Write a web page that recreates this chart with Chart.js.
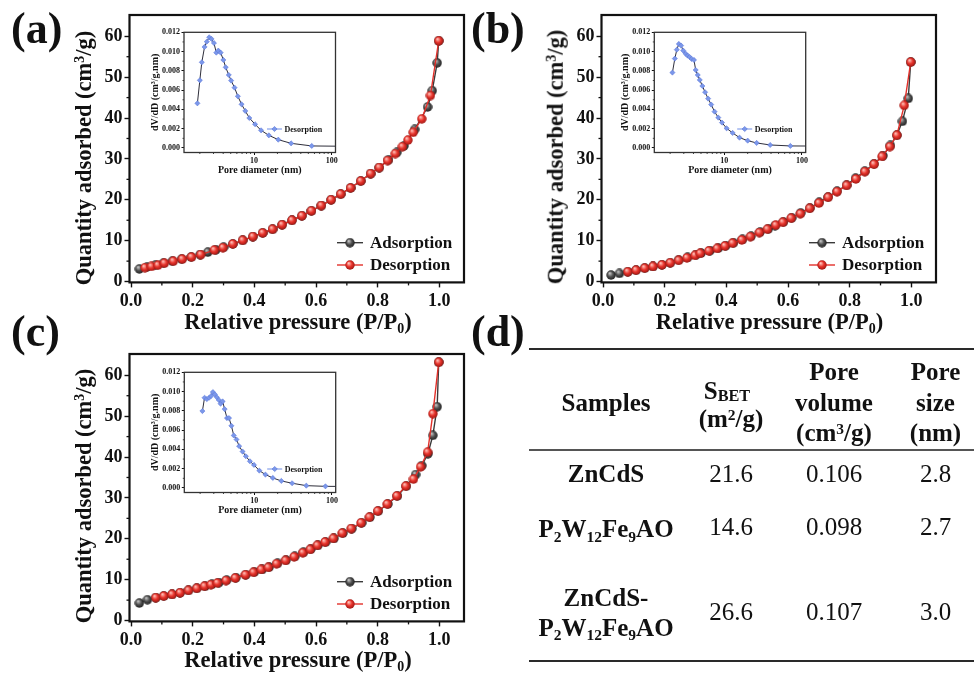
<!DOCTYPE html>
<html><head><meta charset="utf-8">
<script src="https://cdn.jsdelivr.net/npm/chart.js@4.4.1/dist/chart.umd.min.js"></script>
<style>
html,body{margin:0;padding:0;background:#fff;}
#wrap{position:relative;width:974px;height:675px;overflow:hidden;background:#fff;font-family:"Liberation Serif","Times New Roman",serif;color:#111;}
canvas{position:absolute;left:0;top:0;}
.lab{position:absolute;font-weight:bold;font-size:44px;line-height:1;white-space:nowrap;}
.xt{position:absolute;font-weight:bold;font-size:22.5px;line-height:1;white-space:nowrap;transform:translateX(-50%);}
.yt{position:absolute;font-weight:bold;font-size:22.5px;line-height:1;white-space:nowrap;transform:translate(-50%,-50%) rotate(-90deg);}
.sup{font-size:0.62em;position:relative;top:-0.48em;}
.sub{font-size:0.62em;position:relative;top:0.3em;}
.c{position:absolute;font-size:25px;line-height:1;white-space:nowrap;transform:translate(-50%,-50%);}
.b{font-weight:bold;}
.rule{position:absolute;left:529px;width:445px;background:#2a2a2a;}
</style></head>
<body>
<div id="wrap">
<canvas id="ca" width="974" height="675"></canvas>
<canvas id="cb" width="974" height="675"></canvas>
<canvas id="cc" width="974" height="675"></canvas>
<canvas id="ia" width="974" height="675"></canvas>
<canvas id="ib" width="974" height="675"></canvas>
<canvas id="ic" width="974" height="675"></canvas>

<div class="lab" style="left:11px;top:6.6px">(a)</div>
<div class="lab" style="left:471px;top:6.6px">(b)</div>
<div class="lab" style="left:11px;top:310.3px">(c)</div>
<div class="lab" style="left:471px;top:310.3px">(d)</div>

<div class="xt" style="left:298px;top:311px">Relative pressure (P/P<span class="sub">0</span>)</div>
<div class="xt" style="left:769.5px;top:311px">Relative pressure (P/P<span class="sub">0</span>)</div>
<div class="xt" style="left:298px;top:649.3px">Relative pressure (P/P<span class="sub">0</span>)</div>
<div class="yt" style="left:84px;top:157.5px">Quantity adsorbed (cm<span class="sup">3</span>/g)</div>
<div class="yt" style="left:556.3px;top:156.5px">Quantity adsorbed (cm<span class="sup">3</span>/g)</div>
<div class="yt" style="left:84px;top:495.5px">Quantity adsorbed (cm<span class="sup">3</span>/g)</div>

<div class="rule" style="top:348px;height:2.4px"></div>
<div class="rule" style="top:449.3px;height:1.5px;background:#555"></div>
<div class="rule" style="top:659.5px;height:2.4px"></div>

<div class="c b" style="left:606px;top:401.7px">Samples</div>
<div class="c b" style="left:727px;top:390px">S<span style="font-size:0.65em;position:relative;top:0.12em">BET</span></div>
<div class="c b" style="left:731px;top:418px">(m<span class="sup">2</span>/g)</div>
<div class="c b" style="left:834px;top:370.7px">Pore</div>
<div class="c b" style="left:834px;top:401.7px">volume</div>
<div class="c b" style="left:834px;top:432px">(cm<span class="sup">3</span>/g)</div>
<div class="c b" style="left:935.5px;top:370.7px">Pore</div>
<div class="c b" style="left:935.5px;top:401.7px">size</div>
<div class="c b" style="left:935.5px;top:432px">(nm)</div>

<div class="c b" style="left:606px;top:473.3px">ZnCdS</div>
<div class="c" style="left:731px;top:472.8px">21.6</div>
<div class="c" style="left:834px;top:472.8px">0.106</div>
<div class="c" style="left:935.5px;top:472.8px">2.8</div>

<div class="c b" style="left:606px;top:528px">P<span class="sub">2</span>W<span class="sub">12</span>Fe<span class="sub">9</span>AO</div>
<div class="c" style="left:731px;top:526px">14.6</div>
<div class="c" style="left:834px;top:526px">0.098</div>
<div class="c" style="left:935.5px;top:526px">2.7</div>

<div class="c b" style="left:606px;top:596.7px">ZnCdS-</div>
<div class="c b" style="left:606px;top:626.5px">P<span class="sub">2</span>W<span class="sub">12</span>Fe<span class="sub">9</span>AO</div>
<div class="c" style="left:731px;top:611px">26.6</div>
<div class="c" style="left:834px;top:611px">0.107</div>
<div class="c" style="left:935.5px;top:611px">3.0</div>
</div>

<script>
// ---------------- DATA ----------------
// Panel (a) ZnCdS isotherm
const pA_ads = [0.027,0.052,0.079,0.105,0.134,0.164,0.195,0.224,0.249,0.275,0.30,0.33,0.362,0.395,0.427,0.459,0.49,0.522,0.554,0.585,0.617,0.649,0.68,0.712,0.745,0.777,0.805,0.835,0.862,0.885,0.92,0.962,0.977,0.993,0.998];
const qA_ads = [3.1,3.6,4.0,4.5,5.0,5.5,6.0,6.6,7.2,7.8,8.4,9.2,10.1,11.0,11.9,12.8,13.9,15.0,16.1,17.3,18.6,20.0,21.4,22.9,24.6,26.4,27.9,29.8,31.6,33.2,37.2,42.7,46.7,53.5,58.9];
const pA_des = [0.045,0.066,0.087,0.108,0.137,0.166,0.196,0.226,0.27,0.298,0.33,0.362,0.395,0.427,0.459,0.49,0.522,0.554,0.585,0.617,0.649,0.68,0.712,0.745,0.777,0.805,0.832,0.857,0.88,0.898,0.915,0.943,0.971,0.998];
const qA_des = [3.4,3.7,4.0,4.5,5.0,5.5,6.0,6.6,7.7,8.3,9.2,10.1,11.0,11.9,12.8,13.9,15.0,16.1,17.3,18.6,20.0,21.4,22.9,24.6,26.4,27.9,29.6,31.3,33.0,34.6,36.5,39.8,45.5,58.9];
// Panel (b) P2W12Fe9AO isotherm
const pB_ads = [0.026,0.053,0.080,0.107,0.135,0.162,0.191,0.218,0.245,0.274,0.302,0.318,0.347,0.374,0.398,0.423,0.452,0.480,0.509,0.536,0.558,0.585,0.612,0.641,0.671,0.701,0.730,0.759,0.790,0.819,0.849,0.879,0.908,0.932,0.953,0.971,0.990,0.998];
const qB_ads = [1.6,2.0,2.4,2.8,3.3,3.7,4.1,4.6,5.3,5.9,6.6,7.0,7.6,8.2,8.8,9.5,10.3,11.1,12.1,12.9,13.7,14.6,15.6,16.8,18.0,19.4,20.7,22.1,23.6,25.3,27.0,28.8,30.8,33.3,35.8,39.2,44.8,53.7];
const pB_des = [0.080,0.107,0.135,0.162,0.191,0.218,0.245,0.272,0.298,0.315,0.343,0.37,0.395,0.42,0.45,0.478,0.507,0.533,0.56,0.583,0.61,0.64,0.67,0.70,0.73,0.759,0.79,0.82,0.849,0.879,0.905,0.93,0.953,0.977,0.998];
const qB_des = [2.4,2.8,3.3,3.7,4.1,4.6,5.2,5.8,6.4,6.9,7.5,8.1,8.7,9.4,10.2,11.0,12.0,12.8,13.8,14.5,15.5,16.6,17.9,19.2,20.6,22.0,23.5,25.1,26.9,28.7,30.6,33.0,35.8,43.1,53.7];
// Panel (c) ZnCdS-P2W12Fe9AO isotherm
const pC_ads = [0.027,0.053,0.080,0.106,0.133,0.159,0.186,0.213,0.24,0.262,0.285,0.31,0.34,0.372,0.40,0.425,0.448,0.475,0.503,0.531,0.559,0.583,0.606,0.631,0.658,0.687,0.716,0.748,0.775,0.802,0.833,0.864,0.893,0.923,0.943,0.963,0.979,0.993,0.998];
const qC_ads = [4.3,5.1,5.6,6.0,6.4,6.8,7.4,7.9,8.4,8.9,9.3,9.9,10.5,11.2,11.9,12.5,13.1,14.0,14.8,15.7,16.7,17.5,18.4,19.2,20.1,21.4,22.5,23.9,25.3,26.8,28.5,30.5,32.9,35.7,37.9,40.8,45.3,52.3,63.2];
const pC_des = [0.080,0.106,0.133,0.159,0.186,0.213,0.238,0.259,0.28,0.308,0.338,0.371,0.397,0.422,0.445,0.472,0.501,0.529,0.557,0.581,0.604,0.629,0.656,0.685,0.714,0.746,0.773,0.80,0.831,0.862,0.891,0.916,0.939,0.962,0.979,0.998];
const qC_des = [5.6,6.0,6.4,6.8,7.4,7.9,8.4,8.8,9.2,9.8,10.4,11.2,11.8,12.5,13.0,13.9,14.7,15.6,16.6,17.4,18.4,19.2,20.1,21.4,22.5,23.9,25.3,26.8,28.5,30.5,32.9,34.6,37.6,41.2,50.6,63.2];

// Insets: pore size distribution (desorption branch)
const dA = [1.86,2.0,2.12,2.30,2.46,2.64,2.83,3.04,3.26,3.46,3.71,4.02,4.31,4.72,5.06,5.60,6.18,6.90,7.71,8.69,10.3,12.3,15.5,20.5,30.0,55.3,130];
const vA = [0.00463,0.00702,0.00889,0.01048,0.01103,0.01148,0.01131,0.01089,0.00989,0.0101,0.00989,0.00913,0.00837,0.00757,0.00699,0.00626,0.00536,0.00453,0.00384,0.00311,0.00246,0.00183,0.00131,0.00086,0.00048,0.00021,0.00018];
const dB = [2.14,2.30,2.44,2.59,2.77,2.95,3.16,3.36,3.57,3.79,4.06,4.27,4.54,4.82,5.21,5.65,6.18,6.77,7.48,8.36,9.33,10.7,12.8,15.7,20.0,26.1,39.0,71.1,130];
const vB = [0.00782,0.00927,0.0102,0.01079,0.01062,0.0101,0.00979,0.00958,0.00944,0.00923,0.00913,0.00809,0.00757,0.00706,0.00643,0.00578,0.00512,0.0045,0.00377,0.00315,0.00263,0.00204,0.00156,0.00107,0.00076,0.00052,0.00031,0.00021,0.0002];
const dC = [2.14,2.28,2.44,2.61,2.77,2.92,3.10,3.29,3.49,3.67,3.90,4.14,4.44,4.72,5.06,5.43,5.89,6.37,7.05,7.78,8.77,9.9,11.6,13.9,17.3,22.3,30.7,46.8,82.6,130];
const vC = [0.00798,0.00936,0.00922,0.00936,0.00954,0.00995,0.00971,0.0094,0.00912,0.00874,0.00898,0.00818,0.00725,0.00725,0.00645,0.00545,0.00503,0.00434,0.00378,0.00329,0.00277,0.00239,0.0018,0.00139,0.00104,0.00073,0.00049,0.00024,0.00017,0.00016];

// Tick values
const mainXTicks = [0,0.2,0.4,0.6,0.8,1.0];
const mainXMinor = [0.1,0.3,0.5,0.7,0.9];
const mainYTicks = [0,10,20,30,40,50,60];
const mainYMinor = [5,15,25,35,45,55];
const insetXTicks = [10,100];
const insetXMinor = [2,3,4,5,6,7,8,9,20,30,40,50,60,70,80,90];
const insetYTicks = [0,0.002,0.004,0.006,0.008,0.010,0.012];
const insetYMinor = [0.001,0.003,0.005,0.007,0.009,0.011];
const seriesNames = ['Adsorption','Desorption'];
const insetName = 'Desorption';

// ---------------- STYLE / HELPERS ----------------
const FONT = 'Liberation Serif';
const W = 974, H = 675;

function sphere(light, base, dark, d) {
  const c = document.createElement('canvas'); c.width = c.height = d;
  const g = c.getContext('2d'); const r = d / 2;
  const gr = g.createRadialGradient(r * 0.72, r * 0.62, r * 0.08, r, r, r);
  gr.addColorStop(0, light); gr.addColorStop(0.5, base); gr.addColorStop(1, dark);
  g.fillStyle = gr; g.beginPath(); g.arc(r, r, r - 0.3, 0, Math.PI * 2); g.fill();
  return c;
}
const redBall = sphere('#ffc0b8', '#e8342c', '#9a1410', 10);
const blackBall = sphere('#c4c4c4', '#505050', '#1c1c1c', 10);

const decoPlugin = {
  id: 'deco',
  beforeDraw(chart, args, o) {
    if (!o.fill) return;
    const a = chart.chartArea, ctx = chart.ctx;
    ctx.save(); ctx.fillStyle = '#fff';
    ctx.fillRect(a.left, a.top, a.right - a.left, a.bottom - a.top);
    ctx.restore();
  },
  afterDraw(chart, args, o) {
    const {ctx, chartArea: a, scales: {x, y}} = chart;
    ctx.save();
    ctx.strokeStyle = '#111'; ctx.lineWidth = o.minorWidth;
    for (const v of o.minorX) {
      const px = x.getPixelForValue(v);
      ctx.beginPath(); ctx.moveTo(px, a.bottom); ctx.lineTo(px, a.bottom + o.minorLen); ctx.stroke();
    }
    for (const v of o.minorY) {
      const py = y.getPixelForValue(v);
      ctx.beginPath(); ctx.moveTo(a.left, py); ctx.lineTo(a.left - o.minorLen, py); ctx.stroke();
    }
    ctx.strokeStyle = o.frameColor; ctx.lineWidth = o.frameWidth;
    ctx.strokeRect(a.left, a.top, a.right - a.left, a.bottom - a.top);
    // legend
    const L = o.legend;
    chart.data.datasets.forEach((ds, i) => {
      const yy = a.bottom + L.dy[i];
      const x0 = a.right + L.dx;
      ctx.strokeStyle = L.lineColor ? L.lineColor : ds.borderColor;
      ctx.lineWidth = L.lineWidth;
      ctx.beginPath(); ctx.moveTo(x0, yy); ctx.lineTo(x0 + L.len, yy); ctx.stroke();
      const cx = x0 + L.len / 2;
      if (ds.pointStyle instanceof HTMLCanvasElement) {
        ctx.drawImage(ds.pointStyle, cx - ds.pointStyle.width / 2, yy - ds.pointStyle.height / 2);
      } else {
        const r = ds.pointRadius;
        ctx.fillStyle = ds.pointBackgroundColor; ctx.strokeStyle = ds.pointBorderColor; ctx.lineWidth = 0.6;
        ctx.beginPath(); ctx.moveTo(cx, yy - r); ctx.lineTo(cx + r, yy); ctx.lineTo(cx, yy + r); ctx.lineTo(cx - r, yy); ctx.closePath();
        ctx.fill(); ctx.stroke();
      }
      ctx.fillStyle = '#111'; ctx.font = 'bold ' + L.size + 'px "' + FONT + '"';
      ctx.textAlign = 'left'; ctx.textBaseline = 'middle';
      ctx.fillText(ds.label, x0 + L.len + L.gap, yy + 0.5);
    });
    ctx.restore();
  }
};

function toPts(xs, ys) { return xs.map((v, i) => ({x: v, y: ys[i]})); }

function mainChart(id, fr, pAds, qAds, pDes, qDes) {
  const yW = 50, xH = 40;
  return new Chart(document.getElementById(id), {
    type: 'line',
    data: {datasets: [
      {label: seriesNames[0], data: toPts(pAds, qAds), borderColor: '#3a3a3a', borderWidth: 1.4,
       pointStyle: blackBall, pointRadius: 5, order: 1, tension: 0},
      {label: seriesNames[1], data: toPts(pDes, qDes), borderColor: '#e2302a', borderWidth: 1.4,
       pointStyle: redBall, pointRadius: 5, order: 0, tension: 0}
    ]},
    options: {
      responsive: false, animation: false, events: [],
      layout: {padding: {left: fr.l - yW, top: fr.t, right: W - fr.r, bottom: H - fr.b - xH}},
      plugins: {legend: {display: false}, tooltip: {enabled: false},
        deco: {fill: false, minorX: mainXMinor, minorY: mainYMinor, minorLen: 3, minorWidth: 1.3,
               frameColor: '#111', frameWidth: 2.2,
               legend: {dx: -127, dy: [-39.7, -17.4], len: 26, gap: 7, size: 17, lineWidth: 1.4}}},
      scales: {
        x: {type: 'linear', min: -0.005, max: 1.08,
            afterFit: s => { s.height = xH; },
            afterBuildTicks: s => { s.ticks = mainXTicks.map(v => ({value: v})); },
            ticks: {callback: v => Number(v).toFixed(1), font: {family: FONT, size: 18, weight: 'bold'},
                    color: '#111', padding: 3, maxRotation: 0, autoSkip: false},
            grid: {drawOnChartArea: false, tickLength: 5, tickWidth: 1.4, tickColor: '#111'},
            border: {display: false}},
        y: {type: 'linear', min: -0.2, max: 65.2,
            afterFit: s => { s.width = yW; },
            afterBuildTicks: s => { s.ticks = mainYTicks.map(v => ({value: v})); },
            ticks: {callback: v => String(v), font: {family: FONT, size: 18, weight: 'bold'},
                    color: '#111', padding: 2, autoSkip: false},
            grid: {drawOnChartArea: false, tickLength: 5, tickWidth: 1.4, tickColor: '#111'},
            border: {display: false}}
      }
    },
    plugins: [decoPlugin]
  });
}

function insetChart(id, fr, d, v) {
  const yW = 35, xH = 24.2;
  return new Chart(document.getElementById(id), {
    type: 'line',
    data: {datasets: [
      {label: insetName, data: toPts(d, v), borderColor: '#2e2e3a', borderWidth: 1,
       pointStyle: 'rectRot', pointRadius: 2.6, pointBackgroundColor: '#7b97ea',
       pointBorderColor: '#5673d6', pointBorderWidth: 0.5, tension: 0}
    ]},
    options: {
      responsive: false, animation: false, events: [],
      layout: {padding: {left: fr.l - yW, top: fr.t, right: W - fr.r, bottom: H - fr.b - xH}},
      plugins: {legend: {display: false}, tooltip: {enabled: false},
        deco: {fill: true, minorX: insetXMinor, minorY: insetYMinor, minorLen: 1.5, minorWidth: 0.8,
               frameColor: '#333', frameWidth: 1.3,
               legend: {dx: -68.5, dy: [-23.5], len: 15, gap: 2.5, size: 8, lineWidth: 1, lineColor: '#6f8de6'}}},
      scales: {
        x: {type: 'logarithmic', min: 1.25, max: 112,
            afterFit: s => { s.height = xH; },
            afterBuildTicks: s => { s.ticks = insetXTicks.map(v => ({value: v})); },
            ticks: {callback: v => String(v), font: {family: FONT, size: 8, weight: 'bold'},
                    color: '#111', padding: 1, maxRotation: 0, autoSkip: false},
            grid: {drawOnChartArea: false, tickLength: 2.5, tickWidth: 1, tickColor: '#111'},
            border: {display: false},
            title: {display: true, text: 'Pore diameter (nm)', font: {family: FONT, size: 10, weight: 'bold'},
                    color: '#111', padding: 0}},
        y: {type: 'linear', min: -0.00047, max: 0.012,
            afterFit: s => { s.width = yW; },
            afterBuildTicks: s => { s.ticks = insetYTicks.map(v => ({value: v})); },
            ticks: {callback: v => Number(v).toFixed(3), font: {family: FONT, size: 8, weight: 'bold'},
                    color: '#111', padding: 1.5, autoSkip: false},
            grid: {drawOnChartArea: false, tickLength: 2.5, tickWidth: 1, tickColor: '#111'},
            border: {display: false},
            title: {display: true, text: 'dV/dD (cm\u00B3/g.nm)', font: {family: FONT, size: 10, weight: 'bold'},
                    color: '#111', padding: 0}}
      }
    },
    plugins: [decoPlugin]
  });
}

mainChart('ca', {l: 129.5, t: 15, r: 464, b: 282.4}, pA_ads, qA_ads, pA_des, qA_des);
mainChart('cb', {l: 601.5, t: 15, r: 936, b: 282.4}, pB_ads, qB_ads, pB_des, qB_des);
mainChart('cc', {l: 129.5, t: 354, r: 464, b: 621.4}, pC_ads, qC_ads, pC_des, qC_des);
insetChart('ia', {l: 184, t: 32.3, r: 335.5, b: 152.5}, dA, vA);
insetChart('ib', {l: 654.3, t: 32.3, r: 805.7, b: 152.5}, dB, vB);
insetChart('ic', {l: 184.3, t: 372.3, r: 335.7, b: 492.5}, dC, vC);
</script>
</body></html>
